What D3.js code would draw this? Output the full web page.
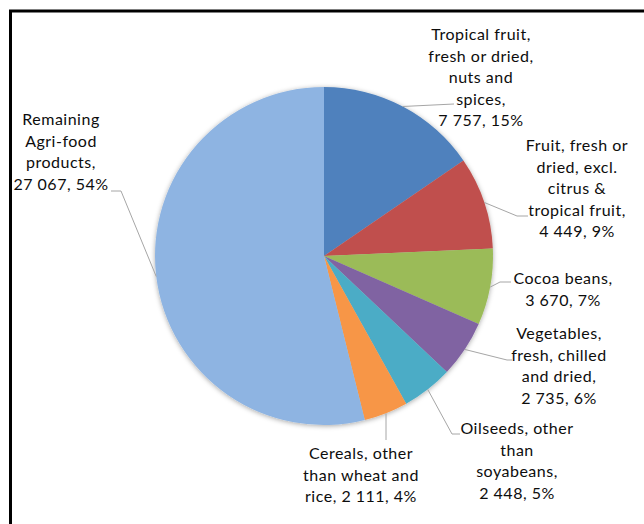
<!DOCTYPE html>
<head>
    <meta charset="utf-8">
    <script src="https://d3js.org/d3.v7.min.js"></script>
    <style type="text/css">
        body {
            margin: 0;
            background: #fff;
        }
        #chart svg {
            display: block;
        }
        .label {
            font-family: Lato, "Open Sans", sans-serif;
            font-size: 16px;
            letter-spacing: 0.5px;
            fill: #0d0d0d;
        }
        .leader {
            fill: none;
            stroke: #a6a6a6;
            stroke-width: 1px;
        }
    </style>
</head>
<body>
    <div id="chart"></div>
</body>
</html>

<script type="text/javascript">
    // Data
    var categories = [
        "Tropical fruit, fresh or dried, nuts and spices",
        "Fruit, fresh or dried, excl. citrus & tropical fruit",
        "Cocoa beans",
        "Vegetables, fresh, chilled and dried",
        "Oilseeds, other than soyabeans",
        "Cereals, other than wheat and rice",
        "Remaining Agri-food products"
    ];
    var values = [7757, 4449, 3670, 2735, 2448, 2111, 27067];
    var percents = ["15%", "9%", "7%", "6%", "5%", "4%", "54%"];
    var colors = ["#4f81bd", "#c0504d", "#9bbb59", "#8064a2", "#4bacc6", "#f79646", "#8eb4e2"];

    // how each label is wrapped (last name line may share the value line)
    var nameLines = [
        ["Tropical fruit,", "fresh or dried,", "nuts and", "spices,"],
        ["Fruit, fresh or", "dried, excl.", "citrus &", "tropical fruit,"],
        ["Cocoa beans,"],
        ["Vegetables,", "fresh, chilled", "and dried,"],
        ["Oilseeds, other", "than", "soyabeans,"],
        ["Cereals, other", "than wheat and", "rice,"],
        ["Remaining", "Agri-food", "products,"]
    ];
    var joinLast = [false, false, false, false, false, true, false];

    // label placement: centre x, first baseline, leader elbow and end
    var labelLayout = [
        {x: 481, y: 40,  elbow: [454, 104], end: [454, 104]},
        {x: 577, y: 151, elbow: [517, 216], end: [528, 216]},
        {x: 563, y: 284, elbow: [500, 282], end: [511, 282]},
        {x: 559, y: 339, elbow: [507, 360], end: [512, 360]},
        {x: 517, y: 434, elbow: [452, 434], end: [460, 434]},
        {x: 361, y: 459, elbow: [386, 440], end: [386, 440]},
        {x: 61,  y: 125, elbow: [121, 191], end: [111, 191]}
    ];

    var width = 644, height = 524;
    var cx = 324, cy = 256, radius = 169;
    var lineHeight = 21.5;

    var fmt = d3.formatLocale({decimal: ",", thousands: "\u00a0", grouping: [3], currency: ["", ""]}).format(",d");

    var svg = d3.select("#chart").append("svg")
        .attr("width", width)
        .attr("height", height);

    // frame (only top and left edges fall inside the picture)
    svg.append("rect")
        .attr("x", 10.5)
        .attr("y", 11)
        .attr("width", width)
        .attr("height", height)
        .attr("fill", "none")
        .attr("stroke", "#000")
        .attr("stroke-width", 3);

    var defs = svg.append("defs");
    var shadow = defs.append("filter")
        .attr("id", "shadow")
        .attr("x", "-10%").attr("y", "-10%")
        .attr("width", "120%").attr("height", "120%");
    shadow.append("feDropShadow")
        .attr("dx", 0)
        .attr("dy", 1)
        .attr("stdDeviation", 2.5)
        .attr("flood-color", "#000")
        .attr("flood-opacity", 0.35);

    var pie = d3.pie().sort(null).value(function(d) { return d; });
    var arcs = pie(values);

    var arc = d3.arc().innerRadius(0).outerRadius(radius);

    var g = svg.append("g")
        .attr("transform", "translate(" + cx + "," + cy + ")");

    g.append("g")
        .attr("filter", "url(#shadow)")
        .selectAll("path")
        .data(arcs)
        .enter()
        .append("path")
        .attr("d", arc)
        .attr("fill", function(d, i) { return colors[i]; });

    // leader lines, starting on the rim at the middle of each slice
    svg.selectAll(".leader")
        .data(arcs)
        .enter()
        .append("polyline")
        .attr("class", "leader")
        .attr("points", function(d, i) {
            var a = (d.startAngle + d.endAngle) / 2;
            var sx = cx + radius * Math.sin(a), sy = cy - radius * Math.cos(a);
            var L = labelLayout[i];
            return [[sx, sy], L.elbow, L.end].map(function(p) { return p.join(","); }).join(" ");
        });

    // labels
    categories.forEach(function(c, i) {
        var lines = nameLines[i].slice();
        var valueLine = fmt(values[i]) + ", " + percents[i];
        if (joinLast[i]) {
            lines[lines.length - 1] = lines[lines.length - 1] + " " + valueLine;
        } else {
            lines.push(valueLine);
        }
        var L = labelLayout[i];
        var t = svg.append("text")
            .attr("class", "label")
            .attr("text-anchor", "middle")
            .attr("x", L.x)
            .attr("y", L.y);
        lines.forEach(function(s, j) {
            t.append("tspan")
                .attr("x", L.x)
                .attr("y", L.y + j * lineHeight)
                .text(s);
        });
    });
</script>
